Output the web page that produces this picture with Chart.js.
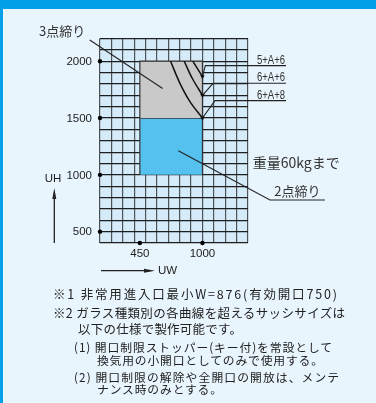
<!DOCTYPE html>
<html>
<head>
<meta charset="utf-8">
<script src="https://cdn.jsdelivr.net/npm/chart.js@4.4.1/dist/chart.umd.min.js"></script>
<style>
  html, body { margin: 0; padding: 0; }
  body {
    width: 376px; height: 403px; position: relative; overflow: hidden;
    background: #e9f5fd; color: #222;
    font-family: "Noto Sans CJK JP", sans-serif;
  }
  #topBar { position: absolute; left: 0; top: 0; width: 376px; height: 9px; background: #00a0e9; }
  #leftEdge { position: absolute; left: 0; top: 0; width: 3px; height: 403px; background: #00a0e9; }
  #chartBox { position: absolute; left: 0; top: 0; width: 376px; height: 285px; }
  .note { position: absolute; white-space: nowrap; line-height: 14px; }
  .big { font-size: 12.5px; }
  .small { font-size: 11.8px; }
</style>
</head>
<body>
<div id="topBar"></div>
<div id="leftEdge"></div>
<div id="chartBox"><canvas id="sizeChart"></canvas></div>

<div class="note big" data-w="284" style="left:53px;top:287px">※1 非常用進入口最小W=876(有効開口750)</div>
<div class="note big" data-w="292" style="left:53px;top:305.5px">※2 ガラス種類別の各曲線を超えるサッシサイズは</div>
<div class="note big" data-w="164" style="left:78px;top:322px">以下の仕様で製作可能です。</div>
<div class="note small" data-w="258" style="left:74px;top:340px">(1) 開口制限ストッパー(キー付)を常設として</div>
<div class="note small" data-w="226" style="left:97px;top:352.5px">換気用の小開口としてのみで使用する。</div>
<div class="note small" data-w="265" style="left:74px;top:369.5px">(2) 開口制限の解除や全開口の開放は、メンテ</div>
<div class="note small" data-w="125" style="left:97px;top:382px">ナンス時のみとする。</div>

<script>
"use strict";

// axis ranges (mm), grid every 100
const xMin = 100, xMax = 1400, yMin = 400, yMax = 2200, gridStep = 100;
const yTickValues = [500, 1000, 1500, 2000];
const xTickValues = [450, 1000];

// zones
const threePointW = [450, 1000];
const threePointH = [1500, 2000];
const twoPointW = [450, 1000];
const twoPointH = [1000, 1500];

// glass type limit curves
const glassLabels = ["5+A+6", "6+A+6", "6+A+8"];
const glassW = [[915, 1000], [840, 910, 1000], [720, 800, 890, 1000]];
const glassH = [[2000, 1865], [2000, 1850, 1700], [2000, 1810, 1645, 1500]];

// callout leaders, in axis units: [underline end, underline start, tip]
const callouts = [
  { text: "3点締り", align: "left", arrow: false,
    path: [[-445, 2187], [10, 2187], [650, 1760]] },
  { text: "2点締り", align: "center", arrow: false,
    path: [[2076, 779], [1593, 779], [788, 1212]] },
  { text: glassLabels[0], align: "right", arrow: true,
    path: [[1734, 1961], [1025, 1961], [1000, 1865]] },
  { text: glassLabels[1], align: "right", arrow: true,
    path: [[1734, 1806], [1093, 1806], [1000, 1700]] },
  { text: glassLabels[2], align: "right", arrow: true,
    path: [[1734, 1653], [1110, 1653], [1000, 1500]] },
];
const weightNote = { text: "重量60kgまで", at: [1441, 1110] };

function rectPoints(w, h) {
  return [
    { x: w[0], y: h[0] }, { x: w[0], y: h[1] },
    { x: w[1], y: h[1] }, { x: w[1], y: h[0] },
  ];
}

// stretch the notes to the reference line widths
document.querySelectorAll(".note").forEach((el) => {
  const target = parseFloat(el.dataset.w);
  const natural = el.getBoundingClientRect().width;
  const n = [...el.textContent].length;
  el.style.letterSpacing = ((target - natural) / (n - 1)).toFixed(2) + "px";
});

const datasets = [];

callouts.forEach((c) => {
  datasets.push({
    label: c.text,
    data: c.path.map(([x, y]) => ({ x, y })),
    borderColor: "#222",
    borderWidth: 1.1,
    pointRadius: c.arrow ? [0, 0, 2.6] : 0,
    pointStyle: "triangle",
    pointRotation: 180,
    pointBackgroundColor: "#111",
    pointBorderWidth: 0,
    clip: false,
    fill: false,
  });
});

glassLabels.forEach((label, i) => {
  datasets.push({
    label,
    data: glassW[i].map((w, j) => ({ x: w, y: glassH[i][j] })),
    borderColor: "#111",
    borderWidth: 1.5,
    tension: 0.35,
    pointRadius: 0,
    fill: false,
  });
});

datasets.push({
  label: "ticks",
  data: [
    ...yTickValues.map((v) => ({ x: xMin, y: v })),
    ...xTickValues.map((v) => ({ x: v, y: yMin })),
  ],
  showLine: false,
  pointRadius: 2.2,
  pointBackgroundColor: "#000",
  pointBorderWidth: 0,
  clip: false,
});

datasets.push({
  label: "3点締り",
  data: rectPoints(threePointW, threePointH),
  backgroundColor: "#c9c9c9",
  borderColor: "#333",
  borderWidth: 1.2,
  pointRadius: 0,
  fill: { value: threePointH[0] },
});

datasets.push({
  label: "2点締り",
  data: rectPoints(twoPointW, twoPointH),
  backgroundColor: "#55c1ee",
  borderColor: "#333",
  borderWidth: 1.2,
  pointRadius: 0,
  fill: { value: twoPointH[0] },
});

function arrowHead(ctx, tipX, tipY, dx, dy) {
  const len = 11, half = 2;
  ctx.beginPath();
  ctx.moveTo(tipX, tipY);
  ctx.lineTo(tipX - dx * len - dy * half, tipY - dy * len + dx * half);
  ctx.lineTo(tipX - dx * len + dy * half, tipY - dy * len - dx * half);
  ctx.closePath();
  ctx.fill();
}

const extras = {
  id: "extras",
  beforeDraw(chart) {
    const { ctx, chartArea: a } = chart;
    ctx.save();
    ctx.fillStyle = "#d5ebf9";
    ctx.fillRect(a.left, a.top, a.right - a.left, a.bottom - a.top);
    ctx.restore();
  },
  afterDraw(chart) {
    const { ctx, chartArea: a } = chart;
    const x = chart.scales.x, y = chart.scales.y;
    ctx.save();
    ctx.fillStyle = "#222";

    // tick labels
    ctx.font = '11.5px "Liberation Sans", Arial, sans-serif';
    ctx.textAlign = "right";
    ctx.textBaseline = "middle";
    yTickValues.forEach((v) => ctx.fillText(String(v), a.left - 8, y.getPixelForValue(v) + 0.5));
    ctx.textAlign = "center";
    xTickValues.forEach((v) => ctx.fillText(String(v), x.getPixelForValue(v), a.bottom + 11));

    // axis names and arrows
    ctx.textAlign = "center";
    ctx.fillText("UH", a.left - 47, a.bottom - 64);
    ctx.textAlign = "left";
    ctx.fillText("UW", a.left + 58, a.bottom + 27.5);
    ctx.strokeStyle = "#222";
    ctx.lineWidth = 1.3;
    ctx.beginPath();
    ctx.moveTo(a.left - 45.7, a.bottom);
    ctx.lineTo(a.left - 45.7, a.bottom - 50);
    ctx.moveTo(a.left + 1, a.bottom + 27.7);
    ctx.lineTo(a.left + 50, a.bottom + 27.7);
    ctx.stroke();
    arrowHead(ctx, a.left - 45.7, a.bottom - 55, 0, -1);
    arrowHead(ctx, a.left + 55, a.bottom + 27.7, 1, 0);

    // callout texts sit on their underline
    callouts.forEach((c) => {
      const x0 = x.getPixelForValue(c.path[0][0]);
      const x1 = x.getPixelForValue(c.path[1][0]);
      const ly = y.getPixelForValue(c.path[0][1]);
      const left = Math.min(x0, x1), right = Math.max(x0, x1);
      ctx.fillStyle = "#333";
      ctx.textBaseline = "alphabetic";
      if (c.align === "right") {
        // condensed numerals like the reference
        ctx.font = '12px "Liberation Sans", Arial, sans-serif';
        const w = ctx.measureText(c.text).width;
        ctx.save();
        ctx.translate(right - 1, ly - 2);
        ctx.scale(28 / w, 1);
        ctx.textAlign = "right";
        ctx.fillText(c.text, 0, 0);
        ctx.restore();
      } else {
        ctx.font = '13px "Noto Sans CJK JP"';
        ctx.textAlign = c.align;
        const tx = c.align === "left" ? left + 1 : (left + right) / 2;
        ctx.fillText(c.text, tx, ly - 4);
      }
    });

    ctx.font = '14px "Noto Sans CJK JP"';
    ctx.fillStyle = "#333";
    ctx.textAlign = "left";
    ctx.textBaseline = "middle";
    ctx.fillText(weightNote.text, x.getPixelForValue(weightNote.at[0]), y.getPixelForValue(weightNote.at[1]));
    ctx.restore();
  },
};

new Chart(document.getElementById("sizeChart"), {
  type: "line",
  data: { datasets },
  options: {
    responsive: true,
    maintainAspectRatio: false,
    animation: false,
    devicePixelRatio: 1,
    events: [],
    layout: { padding: { left: 100, right: 128, top: 38.5, bottom: 42 } },
    plugins: { legend: { display: false }, tooltip: { enabled: false } },
    scales: {
      x: {
        type: "linear",
        min: xMin,
        max: xMax,
        ticks: { display: false, stepSize: gridStep },
        grid: { color: "#4d5258", lineWidth: 1.2, drawTicks: false },
        border: { display: false },
      },
      y: {
        type: "linear",
        min: yMin,
        max: yMax,
        ticks: { display: false, stepSize: gridStep },
        grid: { color: "#1e1e1e", lineWidth: 1.2, drawTicks: false },
        border: { display: false },
      },
    },
  },
  plugins: [extras],
});
</script>
</body>
</html>
